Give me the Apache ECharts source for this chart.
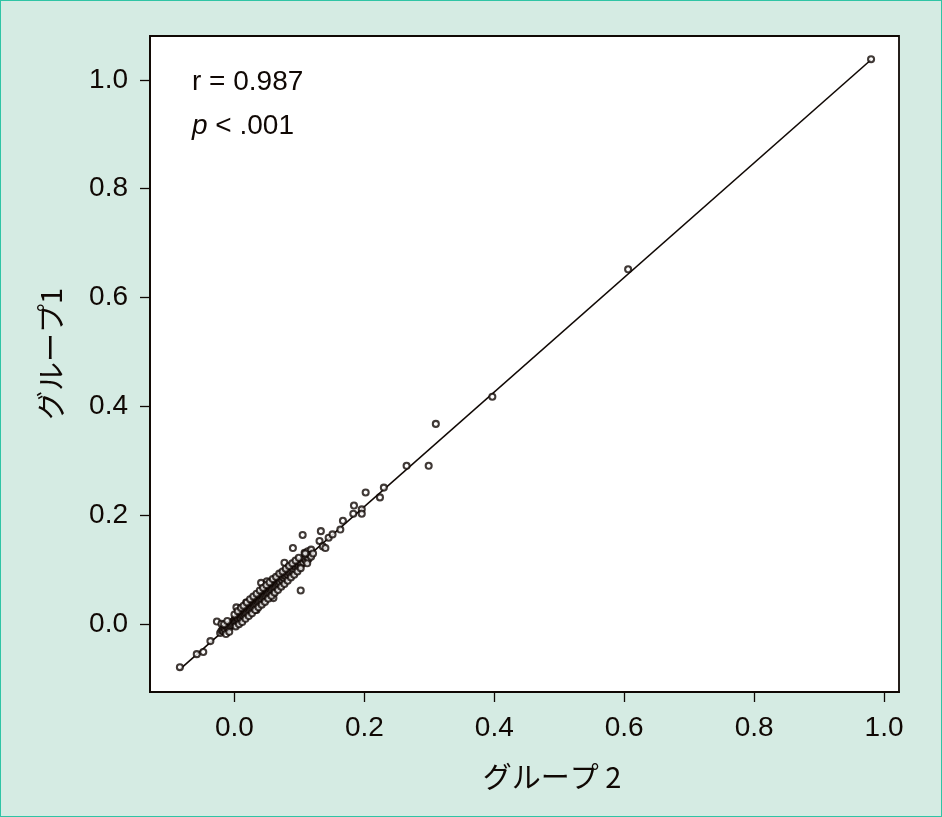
<!DOCTYPE html>
<html><head><meta charset="utf-8">
<script src="https://cdn.jsdelivr.net/npm/echarts@6/dist/echarts.min.js"></script>
<style>html,body{margin:0;padding:0;background:#d5ebe3;}#c{width:942px;height:817px;box-sizing:border-box;border:1px solid #2fc4a5;}</style>
</head><body><div id="c"></div>
<script>
const xTicks = [0.0, 0.2, 0.4, 0.6, 0.8, 1.0];
const yTicks = [0.0, 0.2, 0.4, 0.6, 0.8, 1.0];
const xTitle = 'グループ 2';
const yTitle = 'グループ1';
const statR = 'r = 0.987';
const statP = '{i|p} < .001';
// regression line endpoints (x, y)
const lineX = [-0.085, 0.980];
const lineY = [-0.084, 1.037];
// sparse points
const sparseX = [0.980,0.606,0.397,0.310,0.299,0.265,0.230,0.224,0.202,0.196,0.196,0.184,0.183,0.167,
 -0.084,-0.058,-0.048,-0.037,-0.027,-0.020,0.003,0.018,0.034,0.041,0.050,0.060,0.072,0.077,0.090,0.102,0.105,
 0.108,0.113,0.118,0.131,0.136,0.140,0.133,0.145,0.151,0.163];
const sparseY = [1.038,0.652,0.418,0.368,0.291,0.291,0.251,0.233,0.242,0.211,0.203,0.218,0.203,0.190,
 -0.079,-0.055,-0.051,-0.031,0.005,0.001,0.031,0.040,0.026,0.076,0.079,0.048,0.084,0.113,0.140,0.062,0.164,
 0.131,0.134,0.137,0.153,0.143,0.140,0.171,0.159,0.165,0.174];
// dense cluster, core
const clusterX = [-0.022,-0.020,-0.018,-0.017,-0.015,-0.014,-0.012,-0.011,-0.010,-0.009,-0.008,-0.007,-0.006,-0.005,-0.004,-0.003,-0.002,-0.001,
 0.000,0.000,0.001,0.002,0.003,0.004,0.005,0.005,0.006,0.007,0.008,0.008,0.009,0.010,0.010,0.011,0.012,0.012,0.013,0.014,0.014,0.015,
 0.016,0.016,0.017,0.018,0.018,0.019,0.020,0.020,0.021,0.022,0.022,0.023,0.024,0.024,0.025,0.026,0.026,0.027,0.028,0.028,0.029,0.030,
 0.030,0.031,0.032,0.032,0.033,0.034,0.034,0.035,0.036,0.036,0.037,0.038,0.038,0.039,0.040,0.040,0.041,0.042,0.042,0.043,0.044,0.044,
 0.045,0.046,0.046,0.047,0.048,0.048,0.049,0.050,0.050,0.051,0.052,0.052,0.053,0.054,0.054,0.055,0.056,0.056,0.057,0.058,0.058,0.059,
 0.060,0.060,0.061,0.062,0.062,0.063,0.064,0.064,0.065,0.066,0.066,0.067,0.068,0.068,0.069,0.070,0.070,0.072,0.073,0.074,0.075,0.076,
 0.077,0.078,0.079,0.080,0.081,0.082,0.083,0.084,0.085,0.086,0.087,0.088,0.090,0.091,0.092,0.094,0.095,0.096,0.098,0.099,0.100,0.102,
 0.103,0.105,0.106,0.108,0.110,0.112,0.114,0.116,0.118,0.121];
const clusterY = [-0.016,-0.012,-0.010,-0.013,-0.008,-0.011,-0.004,-0.008,-0.005,-0.002,-0.006,0.000,-0.003,0.002,-0.001,0.004,0.001,0.006,
 0.003,0.008,0.005,0.010,0.006,0.012,0.008,0.013,0.010,0.016,0.012,0.018,0.014,0.020,0.011,0.017,0.022,0.015,0.019,0.024,0.016,0.021,
 0.027,0.018,0.023,0.029,0.020,0.026,0.031,0.022,0.028,0.033,0.025,0.030,0.036,0.027,0.032,0.038,0.029,0.034,0.040,0.031,0.037,0.042,
 0.033,0.039,0.044,0.035,0.041,0.047,0.037,0.043,0.049,0.040,0.045,0.051,0.042,0.048,0.053,0.044,0.050,0.055,0.046,0.052,0.058,0.049,
 0.054,0.060,0.051,0.056,0.062,0.053,0.059,0.064,0.055,0.061,0.067,0.057,0.063,0.069,0.059,0.065,0.071,0.062,0.067,0.073,0.064,0.070,
 0.075,0.066,0.072,0.078,0.068,0.074,0.080,0.070,0.076,0.082,0.073,0.078,0.084,0.075,0.080,0.086,0.077,0.082,0.089,0.080,0.086,0.092,
 0.084,0.089,0.095,0.087,0.092,0.098,0.090,0.095,0.101,0.093,0.098,0.104,0.097,0.101,0.107,0.100,0.105,0.110,0.104,0.109,0.114,0.108,
 0.112,0.117,0.113,0.120,0.116,0.123,0.120,0.127,0.124,0.130];
// dense cluster, edges
const edgeX = [-0.016,-0.013,-0.011,-0.008,0.000,0.002,0.005,0.007,0.010,0.012,0.014,0.017,0.019,0.022,0.024,0.027,0.029,0.032,
 0.034,0.037,0.039,0.042,0.044,0.047,0.049,0.052,0.054,0.057,0.059,0.062,0.064,0.067,0.069,0.072,0.074,0.077,0.079,0.082,
 0.084,0.087,0.089,0.092,0.094,0.097,0.099,0.102,0.109,0.112];
const edgeY = [0.000,-0.018,0.006,-0.014,0.018,-0.004,0.024,0.000,0.030,0.004,0.034,0.010,0.040,0.015,0.046,0.020,0.051,0.026,
 0.056,0.031,0.062,0.036,0.067,0.041,0.072,0.047,0.077,0.052,0.083,0.058,0.087,0.063,0.093,0.069,0.097,0.074,0.102,0.080,
 0.107,0.086,0.112,0.091,0.117,0.097,0.122,0.103,0.130,0.112];

const pts = [];
sparseX.forEach((x,i)=>pts.push([x, sparseY[i]]));
clusterX.forEach((x,i)=>pts.push([x, clusterY[i]]));
edgeX.forEach((x,i)=>pts.push([x, edgeY[i]]));
const linePts = lineX.map((x,i)=>[x, lineY[i]]);

const ink = '#100804';
const latin = '"Liberation Sans", Arial, sans-serif';
const tickFont = {fontFamily:latin, fontSize:28, color:ink};
const chart = echarts.init(document.getElementById('c'), null, {renderer:'canvas'});
chart.setOption({
  backgroundColor:'#d5ebe3',
  animation:false,
  grid:{left:149, top:35, right:42, bottom:124, show:true, backgroundColor:'#fff', borderColor:ink, borderWidth:1.8},
  xAxis:{type:'value', min:-0.13, max:1.023, splitLine:{show:false},
    axisLine:{show:true, onZero:false, lineStyle:{color:ink, width:1.8}},
    axisTick:{show:true, inside:false, length:10, lineStyle:{color:ink, width:1.3}, customValues:xTicks},
    axisLabel:Object.assign({margin:22, customValues:xTicks, formatter:v=>v.toFixed(1)}, tickFont)},
  yAxis:{type:'value', min:-0.1245, max:1.0806, splitLine:{show:false},
    axisLine:{show:true, onZero:false, lineStyle:{color:ink, width:1.8}},
    axisTick:{show:true, inside:false, length:10, lineStyle:{color:ink, width:1.3}, customValues:yTicks},
    axisLabel:Object.assign({margin:22, customValues:yTicks, formatter:v=>v.toFixed(1)}, tickFont)},
  graphic:[
    {type:'text', style:{text:xTitle, x:551, y:776, align:'center', verticalAlign:'middle', font:'29px "Noto Sans CJK JP", sans-serif', fill:ink}},
    {type:'text', style:{text:yTitle, x:0, y:0, align:'center', verticalAlign:'middle', font:'29px "Noto Sans CJK JP", sans-serif', fill:ink}, x:50, y:353, rotation:Math.PI/2},
    {type:'text', style:{text:statR, x:191, y:81, align:'left', verticalAlign:'middle', font:'28px ' + latin, fill:ink}},
    {type:'text', style:{text:statP, x:191, y:125, align:'left', verticalAlign:'middle', font:'28px ' + latin, fill:ink,
      rich:{i:{fontStyle:'italic', fontSize:28, fontFamily:latin, fill:ink}}}}
  ],
  series:[
    {type:'line', data:linePts, symbol:'none', lineStyle:{color:ink, width:1.6}, z:2},
    {type:'scatter', data:pts, symbol:'circle', symbolSize:6, itemStyle:{color:'#fff', borderColor:ink, borderWidth:2.1}, z:3}
  ]
});
</script></body></html>
